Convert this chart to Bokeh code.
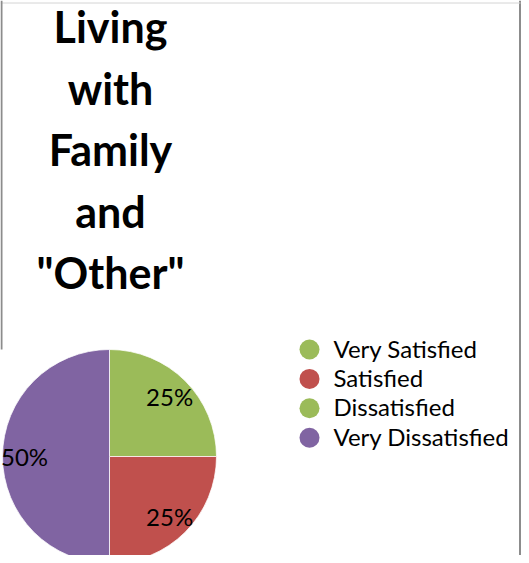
import numpy as np
from bokeh.plotting import figure
from bokeh.models import Range1d, ColumnDataSource
from bokeh.core.properties import value
from bokeh.embed import file_html
from bokeh.resources import INLINE

# ---- data ----
title_lines = ["Living", "with", "Family", "and", "\"Other\""]
categories = ["Very Satisfied", "Satisfied", "Dissatisfied", "Very Dissatisfied"]
values = [25, 25, 0, 50]
colors = ["#9BBB59", "#C0504D", "#9BBB59", "#8064A2"]

# ---- layout (pixel coordinates; y grows downward, stored negated) ----
W, H = 521, 555
FONT = "Lato"

p = figure(width=W, height=H, output_backend="svg", toolbar_location=None,
           x_range=Range1d(0, W), y_range=Range1d(-H, 0),
           min_border=0, x_axis_location=None, y_axis_location=None)
p.grid.visible = False
p.outline_line_color = None
p.background_fill_color = "white"
p.border_fill_color = "white"

# frame borders
p.segment(x0=[519.5], y0=[0], x1=[519.5], y1=[-H], line_color="#8c8c8c", line_width=2)
p.segment(x0=[0], y0=[-2.5], x1=[520], y1=[-2.5], line_color="#d4d4d4", line_width=1)
p.segment(x0=[1], y0=[0], x1=[1], y1=[-349], line_color="#8c8c8c", line_width=2)

# title (one text per line, vertically centred on the capitals)
tx = 110
ty0, tstep = 26, 61.5
p.text(x=[tx] * len(title_lines),
       y=[-(ty0 + i * tstep) for i in range(len(title_lines))],
       text=title_lines, text_align="center", text_baseline="middle",
       text_font=value(FONT), text_font_style="bold", text_font_size="43px",
       text_color="black")

# pie
CX, CY, R = 109, 456, 107
vals = np.array(values, dtype=float)
frac = vals / vals.sum()
cum = np.concatenate([[0.0], np.cumsum(frac)])
start = np.pi / 2 - cum[:-1] * 2 * np.pi
end = np.pi / 2 - cum[1:] * 2 * np.pi
mask = frac > 0
src = ColumnDataSource(dict(
    start=start[mask], end=end[mask],
    color=[c for c, m in zip(colors, mask) if m]))
p.wedge(x=CX, y=-CY, radius=R, start_angle="start", end_angle="end",
        direction="clock", fill_color="color", line_color="white",
        line_width=0.75, source=src)

# data labels
LR = 85
mid = (start + end) / 2
lab_src = ColumnDataSource(dict(
    x=(CX + LR * np.cos(mid))[mask],
    y=(-CY + LR * np.sin(mid))[mask],
    t=[f"{int(v)}%" for v, m in zip(values, mask) if m]))
p.text(x="x", y="y", text="t", source=lab_src, text_align="center",
       text_baseline="middle", text_font=value(FONT), text_font_size="24px",
       text_color="black")

# legend
LX, LY0, LSTEP = 309, 349, 29.4
ly = [-(LY0 + i * LSTEP) for i in range(len(categories))]
p.scatter(x=[LX] * len(categories), y=ly, size=20, marker="circle",
          fill_color=colors, line_color=None)
p.text(x=[LX + 24] * len(categories), y=[v + 1.5 for v in ly], text=categories,
       text_align="left", text_baseline="middle", text_font=value(FONT),
       text_font_size="24px", text_color="black")

open("out.html", "w").write(file_html(p, INLINE))
